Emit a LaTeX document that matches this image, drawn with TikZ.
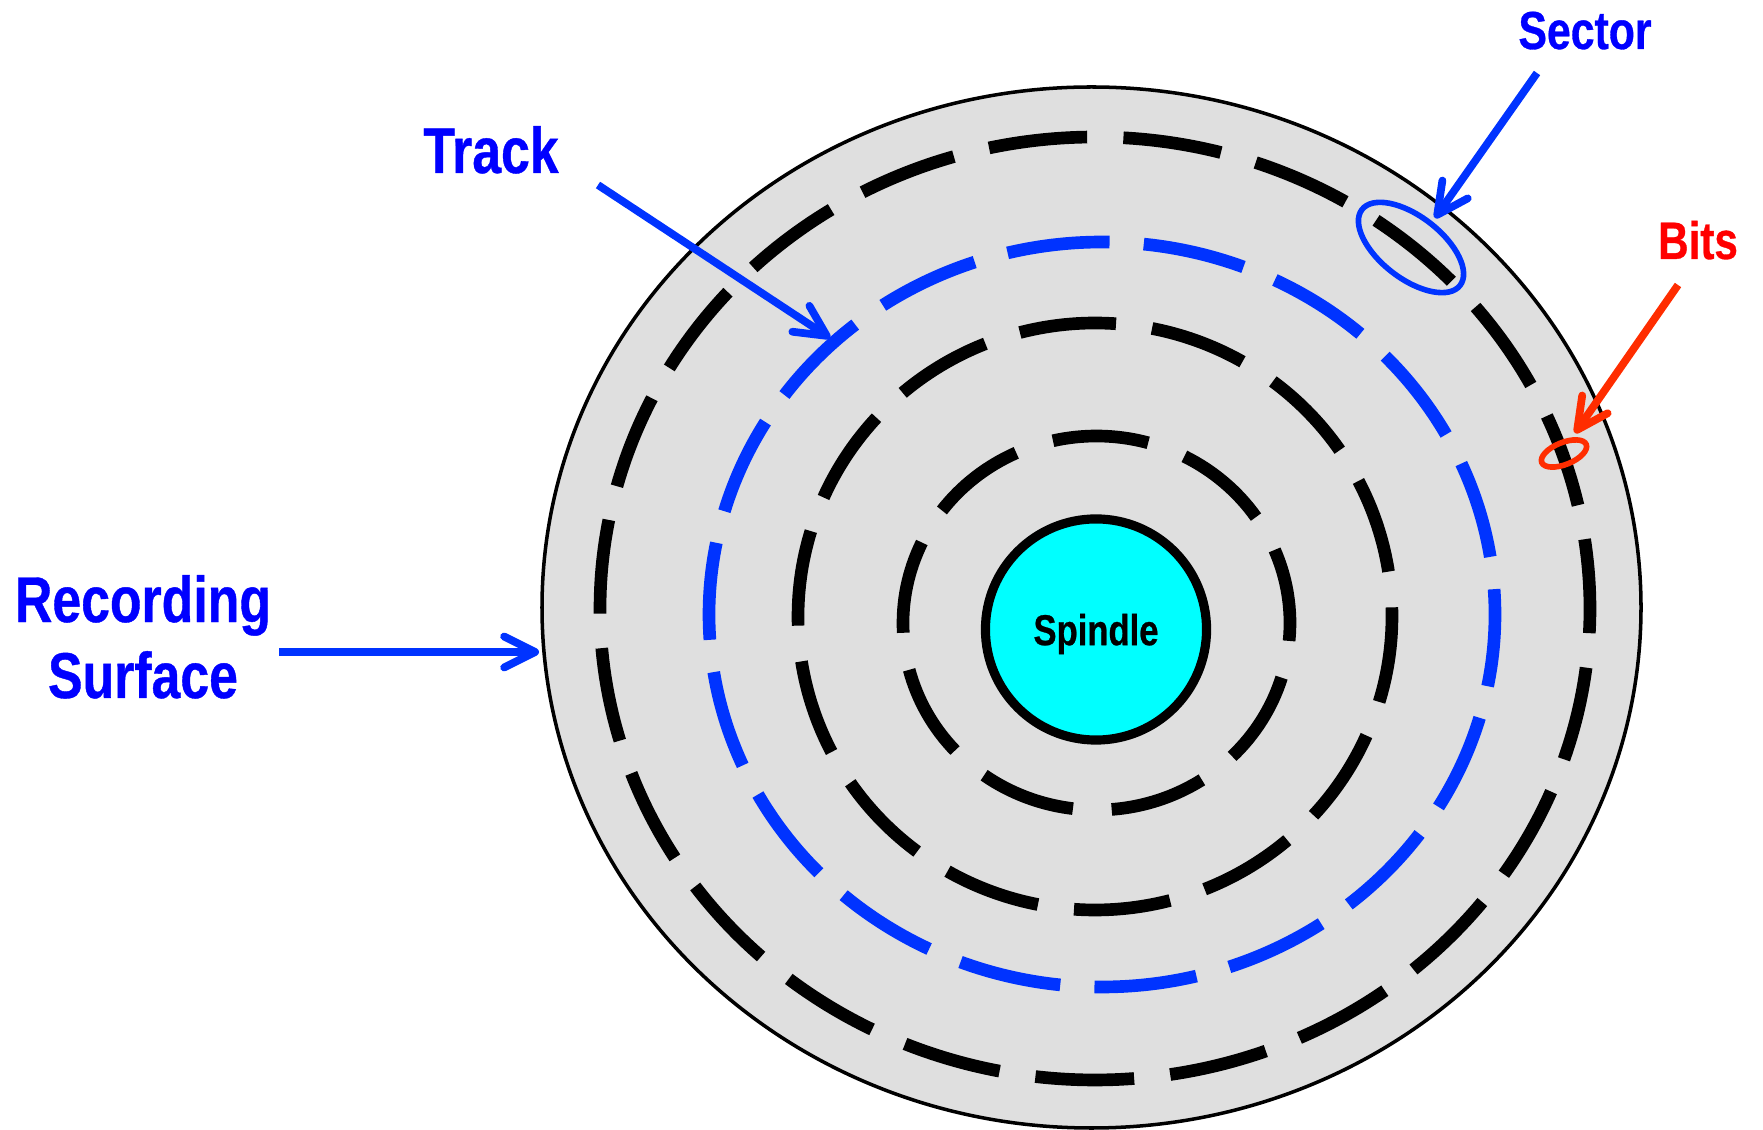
\documentclass[tikz,border=0pt]{standalone}
\usepackage{fontspec}
\setmainfont{Liberation Sans}[FakeStretch=0.8, FakeBold=0.6]
\usepackage{tikz}
\usetikzlibrary{arrows.meta}
\definecolor{discgray}{RGB}{223,223,223}
\definecolor{trackblue}{RGB}{0,51,255}
\definecolor{labelblue}{RGB}{0,0,255}
\definecolor{bitred}{RGB}{255,45,0}
\definecolor{labelred}{RGB}{255,0,0}
\definecolor{spincyan}{RGB}{0,255,255}

\begin{document}
\begin{tikzpicture}[x=0.01cm, y=0.01cm, font=\bfseries,
  ring/.style={line width=3.6pt},
  pointer/.style={line width=2.2pt, -{Straight Barb[length=3.1mm, width=3.1mm, round]}},
  lbl/.style={anchor=base, inner sep=0pt}]
\useasboundingbox (0,0) rectangle (1763,1130);
% disc
\filldraw[fill=discgray, draw=black, line width=1pt] (1091.5,522.5) ellipse [x radius=549.5, y radius=520.5];
% tracks: centre, radii, number of sectors, first angle, sector angle, colour
\foreach \cx/\cy/\rx/\ry/\n/\ph/\d/\col in {1095/521.5/495/471.5/23/12.65/11.45/black,
    1102/515.5/393/372.5/18/8.9/15/trackblue, 1095/513.5/297/293.5/14/8.8/18.7/black,
    1096.5/507/193.5/187/9/-5.5/28.5/black} {
  \foreach \k in {1,...,\n} {
    \pgfmathsetmacro\a{\ph+(\k-1)*360/\n}
    \draw[ring, \col] ({\cx+\rx*cos(\a)},{\cy+\ry*sin(\a)}) arc[start angle=\a, delta angle=\d, x radius=\rx, y radius=\ry];
  }
}
% spindle
\node[circle, draw, line width=2.6pt, fill=spincyan, minimum size=2.21cm, inner sep=0pt, text depth=0pt,
  font=\fontsize{12.3}{14}\selectfont\bfseries] (spindle) at (1096,500.5) {Spindle};
% sector and bits marks
\draw[trackblue, line width=1.6pt, rotate around={-37.7:(1411,882.5)}] (1411,882.5) ellipse [x radius=62, y radius=31];
\draw[bitred, line width=1.6pt, rotate around={22:(1564,676.5)}] (1564,676.5) ellipse [x radius=24, y radius=11];
% labels
\node[lbl, labelblue, font=\fontsize{18.4}{22}\selectfont\bfseries] (track) at (491,957) {Track};
\node[lbl, labelblue, font=\fontsize{15.2}{18}\selectfont\bfseries] (sector) at (1585,1081) {Sector};
\node[lbl, labelred, font=\fontsize{15}{18}\selectfont\bfseries] (bits) at (1698,871) {Bits};
\node[lbl, labelblue, align=center, font=\fontsize{18.4}{21.6}\selectfont\bfseries] (surface) at (143,432) {Recording\\Surface};
% pointers
\coordinate (trackfrom) at (598,945);
\coordinate (tracktip) at (830,792);
\coordinate (sectorfrom) at (1537,1057);
\coordinate (sectortip) at (1435,912);
\coordinate (bitsfrom) at (1678,845);
\coordinate (bitstip) at (1575,697);
\coordinate (surffrom) at (279,478);
\coordinate (surftip) at (539,478);
\draw[pointer, trackblue] (trackfrom) -- (tracktip);
\draw[pointer, trackblue] (sectorfrom) -- (sectortip);
\draw[pointer, bitred] (bitsfrom) -- (bitstip);
\draw[pointer, trackblue] (surffrom) -- (surftip);
\end{tikzpicture}
\end{document}
